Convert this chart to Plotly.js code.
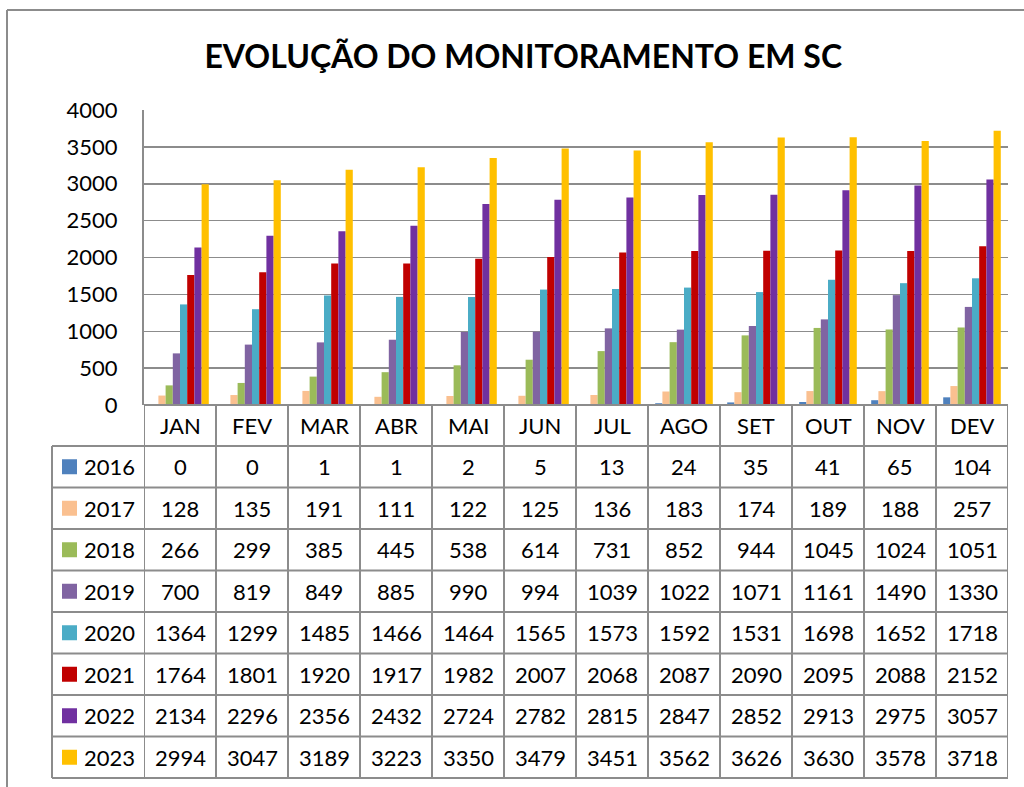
<!DOCTYPE html>
<html><head><meta charset="utf-8">
<script src="https://cdn.plot.ly/plotly-3.0.1.min.js"></script>
<style>html,body{margin:0;padding:0;background:#fff}#c{width:1024px;height:787px}</style>
</head><body><div id="c"></div>
<script>
const months = ["JAN","FEV","MAR","ABR","MAI","JUN","JUL","AGO","SET","OUT","NOV","DEV"];
const years = ["2016","2017","2018","2019","2020","2021","2022","2023"];
const colors = ["#4F81BD","#FAC090","#9BBB59","#8064A2","#4BACC6","#C00000","#7030A0","#FFC000"];
const v2016 = [0,0,1,1,2,5,13,24,35,41,65,104];
const v2017 = [128,135,191,111,122,125,136,183,174,189,188,257];
const v2018 = [266,299,385,445,538,614,731,852,944,1045,1024,1051];
const v2019 = [700,819,849,885,990,994,1039,1022,1071,1161,1490,1330];
const v2020 = [1364,1299,1485,1466,1464,1565,1573,1592,1531,1698,1652,1718];
const v2021 = [1764,1801,1920,1917,1982,2007,2068,2087,2090,2095,2088,2152];
const v2022 = [2134,2296,2356,2432,2724,2782,2815,2847,2852,2913,2975,3057];
const v2023 = [2994,3047,3189,3223,3350,3479,3451,3562,3626,3630,3578,3718];
const series = [v2016,v2017,v2018,v2019,v2020,v2021,v2022,v2023];

const W=1024,H=787;
const px = x=>x/W, py = y=>1-y/H;
const plotL=144, plotR=1008, plotT=110, plotB=405;
const tabL=52, rowH=41.5, hdrB=446;
const lineC="#8C8C8C";
const font="Lato, 'Open Sans', sans-serif";
const fs=22;

const traces = series.map((s,i)=>({type:"bar",x:months,y:s,name:years[i],marker:{color:colors[i]},hoverinfo:"x+y+name"}));

const shapes=[], ann=[];
shapes.push({type:"line",xref:"paper",yref:"paper",x0:px(7),x1:px(7),y0:py(10),y1:py(787),line:{color:"#8C8C8C",width:2}});
shapes.push({type:"line",xref:"paper",yref:"paper",x0:px(7),x1:1,y0:py(10),y1:py(10),line:{color:"#8C8C8C",width:2}});
shapes.push({type:"line",xref:"paper",yref:"paper",x0:px(plotL),x1:px(plotR),y0:py(plotB),y1:py(plotB),line:{color:lineC,width:2}});
for(let r=0;r<=years.length;r++){
  const y=hdrB+r*rowH;
  shapes.push({type:"line",xref:"paper",yref:"paper",x0:px(tabL),x1:px(plotR),y0:py(y),y1:py(y),line:{color:lineC,width:2}});
}
const tabBottom=hdrB+years.length*rowH;
shapes.push({type:"line",xref:"paper",yref:"paper",x0:px(tabL),x1:px(tabL),y0:py(hdrB),y1:py(tabBottom),line:{color:lineC,width:2}});
for(let c=0;c<=months.length;c++){
  shapes.push({type:"line",xref:"x",yref:"paper",x0:c-0.5,x1:c-0.5,y0:py(plotB),y1:py(tabBottom),line:{color:lineC,width:2}});
}
months.forEach((m,i)=>ann.push({xref:"x",yref:"paper",x:m,y:py((plotB+hdrB)/2),text:m,showarrow:false,font:{family:font,size:fs,color:"#000"},xanchor:"center",yanchor:"middle"}));
years.forEach((yr,r)=>{
  const yc=hdrB+r*rowH+rowH/2;
  shapes.push({type:"rect",xref:"paper",yref:"paper",x0:px(62),x1:px(77),y0:py(yc-7.5),y1:py(yc+7.5),fillcolor:colors[r],line:{width:0}});
  ann.push({xref:"paper",yref:"paper",x:px(82),y:py(yc),text:yr,showarrow:false,font:{family:font,size:fs,color:"#000"},xanchor:"left",yanchor:"middle"});
  series[r].forEach((v,i)=>ann.push({xref:"x",yref:"paper",x:months[i],y:py(yc),text:String(v),showarrow:false,font:{family:font,size:fs,color:"#000"},xanchor:"center",yanchor:"middle"}));
});

const layout={
  width:W,height:H,margin:{l:0,r:0,t:0,b:0},paper_bgcolor:"#fff",plot_bgcolor:"#fff",
  showlegend:false,barmode:"group",bargap:0.2,bargroupgap:0,
  title:{text:"<b>EVOLUÇÃO DO MONITORAMENTO EM SC</b>",x:0.511,xanchor:"center",y:py(57),yanchor:"middle",font:{family:font,size:32,color:"#000"}},
  xaxis:{domain:[px(plotL),px(plotR)],showticklabels:false,ticks:"",showgrid:false,zeroline:false,showline:false,range:[-0.5,11.5],fixedrange:true},
  yaxis:{domain:[py(plotB),py(plotT)],range:[0,4000],dtick:500,showgrid:true,gridcolor:"#8C8C8C",gridwidth:1.5,zeroline:false,
    showline:true,linecolor:lineC,linewidth:2,tickfont:{family:font,size:fs,color:"#000"},ticks:"",ticklabelstandoff:20},
  shapes:shapes,annotations:ann
};
Plotly.newPlot("c",traces,layout,{staticPlot:true});
</script></body></html>
